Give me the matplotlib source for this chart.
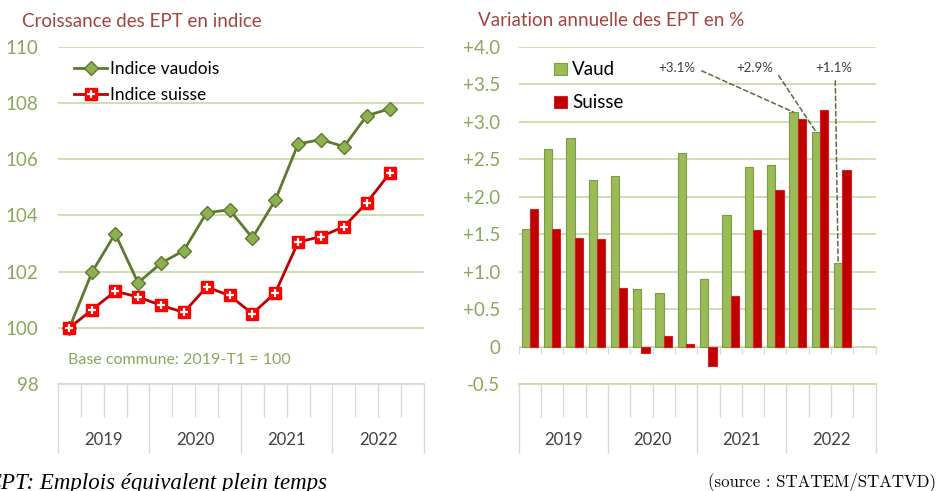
import numpy as np
import matplotlib.pyplot as plt
import matplotlib.ticker as ticker
from matplotlib.legend_handler import HandlerTuple

plt.rcParams['font.family'] = 'Lato'

years = ['2019', '2020', '2021', '2022']
n_quarters = 16
# index 2019-T1 = 100, quarters 2019-T1 .. 2022-T3
idx_vaud = [100.0, 102.0, 103.35, 101.6, 102.3, 102.75, 104.1, 104.2,
            103.2, 104.55, 106.55, 106.7, 106.45, 107.55, 107.8]
idx_suisse = [100.0, 100.65, 101.3, 101.1, 100.8, 100.55, 101.45, 101.15,
              100.5, 101.25, 103.05, 103.25, 103.6, 104.45, 105.5]
# annual variation in %
var_vaud = [1.57, 2.64, 2.79, 2.22, 2.28, 0.77, 0.72, 2.58,
            0.90, 1.76, 2.40, 2.42, 3.13, 2.87, 1.11]
var_suisse = [1.84, 1.57, 1.45, 1.43, 0.78, -0.09, 0.14, 0.03,
              -0.26, 0.68, 1.56, 2.09, 3.04, 3.16, 2.36]
callouts = ['+3.1%', '+2.9%', '+1.1%']
callout_idx = [12, 13, 14]

TITLE = '#A5443F'
TICK = '#8CA65B'
GRID = '#CADDA8'
AXIS = '#D9D9D9'
DARK = '#404040'

fig = plt.figure(figsize=(9.37, 4.91), dpi=100)
ax1 = fig.add_axes([0.0619, 0.218, 0.3906, 0.6864])
ax2 = fig.add_axes([0.5536, 0.218, 0.381, 0.6864])


def style_axis(ax, bottom_color, pad):
    ax.set_xlim(-0.5, n_quarters - 0.5)
    for s in ['left', 'right', 'top']:
        ax.spines[s].set_visible(False)
    ax.spines['bottom'].set_color(bottom_color)
    ax.spines['bottom'].set_linewidth(1.3)
    ax.grid(axis='y', color=GRID, lw=1.3)
    ax.set_axisbelow(True)
    bounds = np.arange(n_quarters + 1) - 0.5
    ax.set_xticks(bounds[::4])
    ax.set_xticks(bounds, minor=True)
    ax.tick_params(axis='x', which='major', length=50, color=AXIS, width=1, labelbottom=False)
    ax.tick_params(axis='x', which='minor', length=24, color=AXIS, width=1)
    ax.tick_params(axis='y', length=0, labelcolor=TICK, labelsize=13.5, pad=pad)
    for i, y in enumerate(years):
        ax.text(4 * i + 1.5, -0.166, y, transform=ax.get_xaxis_transform(),
                ha='center', va='center', fontsize=12, color=DARK)


# ---- left: index
x = np.arange(len(idx_vaud))
ax1.set_ylim(98, 110)
ax1.set_yticks(np.arange(98, 111, 2))
style_axis(ax1, AXIS, 14)
lv, = ax1.plot(x, idx_vaud, color='#5E7A2F', lw=2, marker='D', ms=7.5,
               mfc='#8DB052', mec='#5E7A2F', mew=1, zorder=3)
ls, = ax1.plot(x, idx_suisse, color='#C00000', lw=2, marker='s', ms=8.5,
               mfc='#FF0000', mec='#FF0000', zorder=4)
lp, = ax1.plot(x, idx_suisse, ls='none', marker='+', ms=6, mew=1.6,
               color='white', zorder=5)
ax1.legend([lv, (ls, lp)], ['Indice vaudois', 'Indice suisse'],
           handler_map={tuple: HandlerTuple(ndivide=1)},
           loc='upper left', bbox_to_anchor=(0.045, 0.958), frameon=False,
           fontsize=12.5, handlelength=1.9, handletextpad=0.15,
           labelspacing=0.58, borderaxespad=0, borderpad=0)
ax1.text(0.027, 0.071, 'Base commune: 2019-T1 = 100', transform=ax1.transAxes,
         ha='left', va='center', fontsize=11.5, color=TICK)

# ---- right: annual variation
ax2.set_ylim(-0.5, 4.0)
ax2.set_yticks(np.arange(-0.5, 4.01, 0.5))
ax2.yaxis.set_major_formatter(ticker.FuncFormatter(
    lambda v, pos: '0' if abs(v) < 1e-9 else ('+%.1f' % v if v > 0 else '%.1f' % v)))
style_axis(ax2, GRID, 13.5)
w = 0.37
xb = np.arange(len(var_vaud))
ax2.bar(xb - w / 2, var_vaud, w, color='#9BBB59', edgecolor='#7D9C42', lw=0.8,
        label='Vaud', zorder=2)
ax2.bar(xb + w / 2, var_suisse, w, color='#C00000', edgecolor='#D42020', lw=0.8,
        label='Suisse', zorder=2)
zero = ax2.secondary_xaxis(0.5 / 4.5)
zero.set_xticks(np.arange(n_quarters + 1) - 0.5)
zero.tick_params(length=5, color=AXIS, labelbottom=False)
zero.spines['bottom'].set_color(AXIS)
ax2.legend(loc='upper left', bbox_to_anchor=(0.1, 0.957), frameon=False,
           fontsize=13.5, handlelength=0.65, handleheight=0.65, handletextpad=0.3,
           labelspacing=0.85, borderaxespad=0, borderpad=0)

text_pos = [(6.58, 3.72), (10.1, 3.72), (13.6, 3.72)]
rel = [(1, 0.5), (1, 0.5), (0.55, 0)]
for lab, i, pos, rp in zip(callouts, callout_idx, text_pos, rel):
    ax2.annotate(lab, xy=(i - w / 2, var_vaud[i]), xytext=pos,
                 ha='center', va='center', fontsize=9.5, color=DARK,
                 arrowprops=dict(arrowstyle='-', color='#5C6B45', lw=1.1,
                                 ls=(0, (3, 2)), shrinkA=3, shrinkB=0, relpos=rp))

# ---- titles and footer
fig.text(0.0235, 0.957, 'Croissance des EPT en indice', fontsize=13.5, color=TITLE,
         va='center')
fig.text(0.51, 0.959, 'Variation annuelle des EPT en %', fontsize=13.5, color=TITLE,
         va='center')
fig.text(-0.014, 0.004, 'EPT: Emplois équivalent plein temps', family='Liberation Serif',
         style='italic', fontsize=16.5, va='baseline')
fig.text(0.999, 0.01, '(source : STATEM/STATVD)', family='cmr10', fontsize=12.1,
         ha='right', va='baseline')

fig.savefig('out.png', dpi=100)
